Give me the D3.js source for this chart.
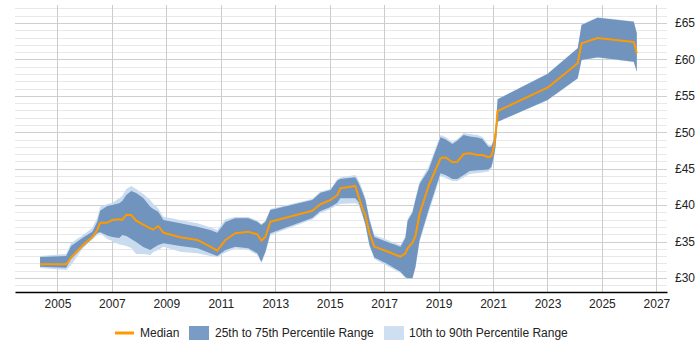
<!DOCTYPE html>
<html lang="en">
<head>
<meta charset="UTF-8">
<title>Median rate chart</title>
<script src="https://d3js.org/d3.v7.min.js"></script>
<style>
  body { margin: 0; background: #fff; }
  svg text { font-family: "Liberation Sans", Arial, sans-serif; font-size: 12px; fill: #222; }
</style>
</head>
<body>
<svg id="chart" width="700" height="350"></svg>
<script>
// dates as decimal years
var years = [
  2004.36, 2005.32, 2005.50, 2005.94, 2006.28, 2006.46, 2006.57, 2006.83, 2007.01, 2007.27,
  2007.38, 2007.53, 2007.71, 2007.89, 2008.15, 2008.41, 2008.52, 2008.70, 2008.89, 2009.51,
  2010.14, 2010.61, 2010.87, 2011.17, 2011.53, 2012.01, 2012.34, 2012.49, 2012.64, 2012.82,
  2014.36, 2014.66, 2015.03, 2015.28, 2015.39, 2015.94, 2016.06, 2016.20, 2016.31, 2016.46,
  2016.64, 2017.12, 2017.60, 2017.78, 2017.86, 2018.04, 2018.15, 2018.30, 2018.63, 2019.07,
  2019.25, 2019.51, 2019.69, 2019.92, 2020.14, 2020.43, 2020.61, 2020.83, 2020.94, 2021.02,
  2021.09, 2021.17, 2023.00, 2024.11, 2024.25, 2024.84, 2026.17, 2026.28
];
var p10 = [
  31.37, 31.10, 31.78, 34.12, 35.28, 35.90, 36.14, 35.35, 35.08, 34.60,
  34.53, 34.39, 34.12, 33.29, 33.29, 33.16, 33.57, 33.84, 34.30, 33.61,
  33.39, 33.02, 32.84, 33.50, 34.05, 33.84, 33.16, 32.06, 33.43, 35.90,
  38.03, 38.92, 39.47, 40.02, 40.16, 40.25, 40.02, 38.51, 37.14, 34.39,
  32.61, 31.65, 30.69, 30.00, 29.86, 29.86, 31.37, 34.94, 38.92, 44.00,
  43.72, 43.31, 43.31, 43.79, 44.27, 44.41, 44.48, 44.62, 45.03, 46.20,
  47.84, 51.41, 54.36, 57.35, 59.85, 60.24, 59.65, 58.27
];
var p25 = [
  31.55, 31.41, 32.61, 34.30, 35.42, 36.18, 36.27, 35.83, 35.63, 35.49,
  35.90, 35.76, 35.35, 34.94, 34.25, 33.84, 34.12, 34.53, 34.76, 34.39,
  34.08, 33.39, 33.02, 33.84, 34.30, 34.08, 33.39, 32.24, 33.61, 36.14,
  38.23, 39.20, 39.74, 40.33, 40.94, 40.94, 40.43, 38.78, 37.41, 34.53,
  32.81, 31.92, 30.86, 30.14, 29.96, 29.96, 31.55, 35.22, 39.33, 44.37,
  44.14, 43.59, 43.59, 44.14, 44.69, 44.78, 44.82, 44.89, 45.28, 46.47,
  48.02, 51.45, 54.43, 57.41, 59.92, 60.29, 59.69, 58.31
];
var median = [
  31.88, 31.88, 32.81, 34.53, 35.63, 36.59, 37.59, 37.59, 37.96, 38.06,
  37.96, 38.69, 38.65, 37.86, 37.34, 36.82, 36.66, 37.14, 36.22, 35.59,
  35.22, 34.30, 33.75, 35.22, 36.14, 36.35, 36.00, 35.12, 35.67, 37.73,
  39.24, 40.12, 40.71, 41.39, 42.31, 42.63, 41.16, 39.57, 38.65, 36.14,
  34.30, 33.64, 32.92, 33.39, 34.08, 34.87, 35.76, 38.78, 42.63, 46.43,
  46.57, 45.88, 45.96, 47.02, 47.11, 46.88, 46.88, 46.57, 46.74, 47.84,
  49.63, 52.92, 56.12, 59.47, 62.21, 62.94, 62.39, 60.84
];
var p75 = [
  32.88, 33.02, 34.39, 35.56, 36.35, 37.69, 39.24, 39.88, 40.02, 40.25,
  40.57, 41.39, 41.94, 41.67, 40.98, 39.79, 39.47, 39.10, 37.96, 37.51,
  37.04, 36.59, 36.22, 37.69, 38.19, 38.19, 37.73, 37.27, 37.73, 39.33,
  40.71, 41.71, 42.08, 43.38, 43.59, 43.82, 43.04, 41.80, 40.71, 37.96,
  35.63, 34.94, 34.30, 35.49, 37.82, 38.99, 40.71, 42.90, 44.82, 49.31,
  49.04, 48.39, 48.87, 49.63, 49.42, 49.28, 49.08, 48.02, 48.02, 48.87,
  50.31, 54.53, 58.00, 61.53, 64.72, 65.73, 65.18, 63.58
];
var p90 = [
  33.02, 33.29, 34.80, 35.90, 36.86, 38.23, 39.79, 40.16, 40.29, 40.94,
  41.25, 42.22, 42.63, 42.22, 41.53, 40.71, 40.16, 39.57, 38.41, 37.96,
  37.51, 36.96, 36.59, 38.06, 38.37, 38.37, 37.89, 37.41, 37.89, 39.47,
  40.84, 41.87, 42.22, 43.59, 43.79, 44.14, 43.45, 42.22, 40.98, 38.23,
  35.90, 35.22, 34.53, 35.76, 38.10, 39.20, 40.98, 43.18, 45.23, 49.63,
  49.35, 48.67, 49.08, 49.90, 49.76, 49.63, 49.35, 48.32, 48.25, 49.08,
  50.45, 54.57, 58.07, 61.57, 64.79, 65.78, 65.23, 63.63
];
var yearTicks = [2005, 2007, 2009, 2011, 2013, 2015, 2017, 2019, 2021, 2023, 2025, 2027];
var rateTicks = [30, 35, 40, 45, 50, 55, 60, 65];
var legendLabels = ["Median", "25th to 75th Percentile Range", "10th to 90th Percentile Range"];

var plotLeft = 15, plotRight = 667, plotTop = 5, plotBottom = 292;
var svg = d3.select("#chart");

var x = d3.scaleLinear().domain([2003.44, 2027.39]).range([plotLeft, plotRight]);
var y = d3.scaleLinear().domain([28.08, 67.47]).range([plotBottom, plotTop]);

var rows = years.map(function(d, i) {
  return { t: d, p10: p10[i], p25: p25[i], med: median[i], p75: p75[i], p90: p90[i] };
});

// grid lines, one per pound, darker every five
var grid = svg.append("g");
grid.selectAll("line.h").data(d3.range(29, 68)).enter().append("line")
  .attr("x1", plotLeft).attr("x2", plotRight)
  .attr("y1", function(d) { return Math.round(y(d)) + 0.5; })
  .attr("y2", function(d) { return Math.round(y(d)) + 0.5; })
  .attr("stroke", function(d) { return d % 5 === 0 ? "#cfcfcf" : "#e8e8e8"; })
  .attr("stroke-width", 1);
grid.selectAll("line.v").data(yearTicks).enter().append("line")
  .attr("x1", function(d) { return Math.round(x(d)) + 0.5; })
  .attr("x2", function(d) { return Math.round(x(d)) + 0.5; })
  .attr("y1", plotTop).attr("y2", plotBottom)
  .attr("stroke", "#cccccc");

// bands
var outer = d3.area().x(function(d) { return x(d.t); })
  .y0(function(d) { return y(d.p10); }).y1(function(d) { return y(d.p90); });
var inner = d3.area().x(function(d) { return x(d.t); })
  .y0(function(d) { return y(d.p25); }).y1(function(d) { return y(d.p75); });
svg.append("path").datum(rows).attr("d", outer).attr("fill", "#c9dbee");
svg.append("path").datum(rows).attr("d", inner).attr("fill", "#7094bd");

// median line
var line = d3.line().x(function(d) { return x(d.t); }).y(function(d) { return y(d.med); });
svg.append("path").datum(rows).attr("d", line)
  .attr("fill", "none").attr("stroke", "#ff9900").attr("stroke-width", 2)
  .attr("stroke-linejoin", "round");

// axes
var xAxis = d3.axisBottom(x).tickValues(yearTicks).tickSize(0).tickPadding(7)
  .tickFormat(d3.format("d"));
var gx = svg.append("g").attr("transform", "translate(0," + plotBottom + ")").call(xAxis);
gx.select(".domain").attr("stroke", "#000").attr("stroke-width", 1.5);
gx.selectAll("text").style("font-size", "12px").attr("fill", "#222");

var yAxis = d3.axisRight(y).tickValues(rateTicks).tickSize(0).tickPadding(8)
  .tickFormat(function(d) { return "£" + d; });
var gy = svg.append("g").attr("transform", "translate(" + plotRight + ",0)").call(yAxis);
gy.select(".domain").remove();
gy.selectAll("text").style("font-size", "12px").attr("fill", "#222");

// legend
var lg = svg.append("g").attr("transform", "translate(0,333)");
lg.append("line").attr("x1", 115).attr("x2", 134).attr("y1", 0).attr("y2", 0)
  .attr("stroke", "#ff9900").attr("stroke-width", 3);
lg.append("text").attr("x", 140).attr("y", 4).text(legendLabels[0]);
lg.append("rect").attr("x", 189).attr("y", -7).attr("width", 20).attr("height", 14).attr("fill", "#7a9cc4");
lg.append("text").attr("x", 215).attr("y", 4).text(legendLabels[1]);
lg.append("rect").attr("x", 384).attr("y", -7).attr("width", 20).attr("height", 14).attr("fill", "#cddff0");
lg.append("text").attr("x", 409).attr("y", 4).text(legendLabels[2]);
</script>
</body>
</html>
